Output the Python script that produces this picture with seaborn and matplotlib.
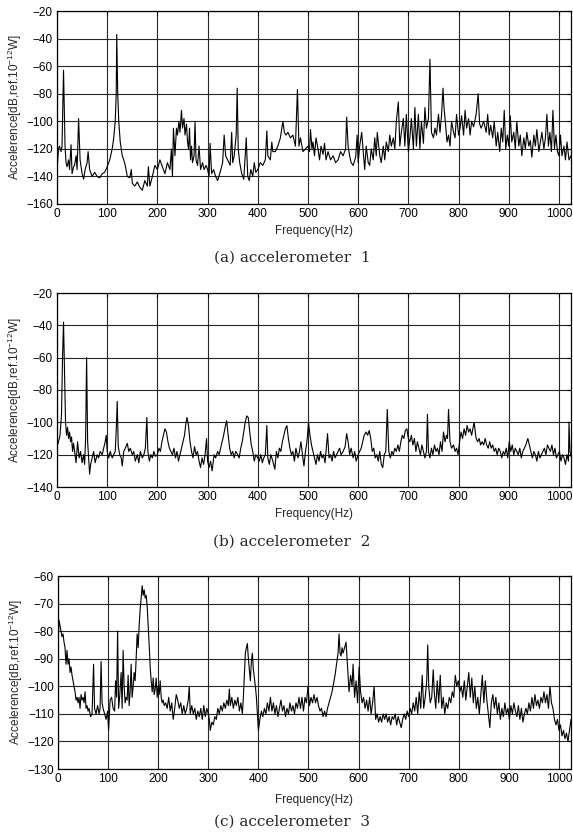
import matplotlib
matplotlib.use('Agg')
import matplotlib.pyplot as plt
import seaborn as sns

# accelerometer 1 : frequency (Hz) / level (dB)
freq_a = [
    0, 3, 5, 8, 10, 13, 16, 18, 20, 23,
    25, 28, 30, 33, 35, 38, 40, 43, 46, 50,
    53, 56, 60, 62, 65, 70, 75, 80, 85, 90,
    95, 100, 105, 110, 113, 116, 118, 119, 121, 123,
    126, 130, 133, 136, 140, 145, 148, 150, 155, 160,
    165, 170, 175, 180, 182, 185, 190, 195, 200, 205,
    210, 215, 220, 225, 228, 230, 232, 235, 238, 240,
    243, 245, 248, 250, 253, 255, 258, 260, 262, 264,
    266, 268, 270, 273, 275, 277, 280, 283, 286, 290,
    293, 297, 300, 303, 305, 308, 312, 316, 320, 325,
    330, 333, 336, 340, 345, 348, 350, 353, 357, 359,
    361, 364, 368, 372, 375, 377, 380, 383, 386, 390,
    393, 396, 400, 405, 410, 415, 418, 420, 425, 428,
    430, 435, 440, 445, 450, 453, 456, 460, 465, 470,
    475, 479, 482, 485, 490, 495, 500, 503, 505, 508,
    510, 513, 516, 520, 523, 526, 530, 533, 536, 540,
    545, 550, 555, 560, 565, 570, 575, 577, 580, 583,
    586, 590, 595, 598, 600, 603, 607, 610, 613, 616,
    620, 623, 626, 630, 633, 636, 638, 643, 646, 650,
    653, 656, 660, 663, 666, 670, 673, 676, 680, 683,
    686, 690, 693, 696, 700, 703, 706, 710, 713, 716,
    720, 723, 726, 730, 733, 736, 740, 743, 746, 750,
    753, 756, 760, 763, 766, 769, 771, 774, 777, 780,
    783, 786, 790, 793, 796, 800, 803, 806, 810, 813,
    816, 820, 823, 826, 830, 835, 839, 842, 845, 850,
    855, 858, 861, 864, 868, 871, 875, 878, 882, 885,
    888, 891, 894, 897, 900, 903, 906, 910, 913, 916,
    920, 923, 926, 930, 933, 936, 940, 943, 946, 950,
    953, 956, 960, 963, 966, 970, 973, 976, 979, 982,
    985, 988, 991, 994, 997, 1000, 1003, 1006, 1010, 1013,
    1016, 1020, 1024]
level_a = [
    -136, -120, -118, -122, -118, -63, -118, -130, -133, -128,
    -135, -117, -138, -133, -132, -125, -135, -98, -128, -138,
    -142, -135, -130, -122, -135, -140, -137, -140, -141, -138,
    -137, -133, -128, -120, -112, -100, -80, -37, -80, -100,
    -115, -125, -128, -132, -140, -141, -135, -145, -147, -144,
    -148, -150, -143, -147, -133, -147, -140, -132, -135, -128,
    -133, -138, -130, -135, -120, -140, -105, -125, -105, -110,
    -100, -108, -92, -105, -98, -110, -102, -115, -120, -105,
    -128, -118, -130, -125, -100, -128, -132, -118, -135, -130,
    -135, -132, -135, -140, -116, -138, -135, -140, -143, -137,
    -130, -110, -125, -128, -132, -108, -130, -125, -110, -76,
    -120, -130, -138, -142, -125, -112, -140, -143, -135, -140,
    -130, -137, -135, -130, -132, -128, -107, -125, -128, -115,
    -122, -122, -118, -112, -100, -108, -110, -108, -112, -110,
    -118, -77, -118, -112, -122, -120, -118, -122, -106, -120,
    -115, -125, -112, -120, -128, -118, -124, -116, -128, -122,
    -128, -125, -130, -128, -122, -125, -120, -97, -118, -125,
    -130, -132, -126, -110, -130, -118, -108, -122, -135, -118,
    -130, -132, -120, -128, -112, -125, -108, -125, -130, -118,
    -128, -115, -122, -110, -118, -112, -120, -100, -86, -118,
    -108, -98, -118, -95, -122, -112, -98, -120, -90, -118,
    -95, -120, -100, -116, -90, -105, -98, -55, -108, -112,
    -105, -110, -95, -108, -96, -76, -90, -102, -115, -110,
    -118, -100, -108, -112, -95, -110, -105, -96, -110, -92,
    -105, -98, -110, -100, -104, -95, -80, -102, -105, -100,
    -108, -95, -110, -103, -112, -100, -118, -108, -122, -105,
    -115, -92, -120, -110, -118, -96, -115, -108, -120, -100,
    -118, -110, -125, -112, -120, -108, -118, -114, -126, -110,
    -118, -106, -122, -115, -108, -120, -112, -95, -118, -108,
    -122, -92, -120, -110, -122, -125, -110, -125, -118, -128,
    -115, -128, -125]

# accelerometer 2
freq_b = [
    0, 3, 6, 9, 11, 13, 15, 17, 19, 21,
    23, 25, 27, 29, 31, 33, 36, 38, 41, 44,
    47, 50, 53, 55, 57, 59, 61, 63, 65, 67,
    70, 73, 76, 80, 83, 86, 90, 93, 96, 98,
    100, 103, 106, 110, 113, 116, 118, 120, 122, 125,
    128, 130, 133, 136, 140, 143, 146, 150, 153, 156,
    160, 163, 166, 170, 173, 176, 179, 181, 184, 187,
    190, 193, 196, 200, 203, 206, 209, 212, 215, 218,
    221, 224, 227, 230, 233, 236, 239, 242, 245, 248,
    251, 254, 257, 259, 262, 265, 268, 271, 274, 277,
    280, 283, 286, 289, 292, 295, 298, 300, 303, 306,
    309, 313, 316, 320, 323, 326, 329, 332, 335, 338,
    341, 344, 347, 350, 353, 356, 360, 363, 366, 369,
    372, 375, 378, 381, 384, 387, 390, 393, 396, 400,
    403, 406, 409, 412, 415, 418, 420, 423, 426, 430,
    434, 437, 440, 443, 446, 449, 452, 455, 458, 461,
    464, 467, 470, 473, 476, 480, 483, 486, 489, 492,
    495, 498, 501, 504, 507, 510, 513, 516, 519, 522,
    525, 528, 531, 534, 536, 539, 542, 545, 548, 551,
    554, 557, 560, 563, 566, 570, 574, 577, 580, 583,
    586, 590, 593, 596, 600, 603, 606, 609, 612, 616,
    619, 622, 625, 628, 631, 634, 637, 640, 643, 646,
    649, 652, 655, 658, 661, 664, 667, 670, 673, 676,
    679, 682, 685, 688, 691, 694, 697, 700, 703, 706,
    709, 712, 715, 718, 721, 724, 727, 730, 733, 736,
    738, 740, 743, 746, 749, 752, 755, 758, 761, 764,
    767, 770, 773, 776, 778, 780, 783, 786, 790, 793,
    796, 799, 802, 805, 808, 811, 814, 817, 820, 823,
    826, 829, 831, 835, 838, 841, 844, 847, 850, 853,
    856, 859, 862, 865, 868, 871, 874, 877, 880, 883,
    886, 889, 892, 895, 898, 901, 904, 907, 910, 913,
    916, 919, 922, 925, 928, 931, 934, 938, 941, 944,
    947, 950, 953, 956, 959, 962, 965, 968, 971, 974,
    977, 980, 983, 986, 989, 992, 995, 998, 1001, 1004,
    1007, 1010, 1013, 1016, 1019, 1020, 1022, 1024]
level_b = [
    -115, -112, -108, -95, -60, -38, -70, -100, -108, -103,
    -110, -106, -112, -109, -118, -113, -120, -125, -112, -122,
    -118, -125, -120, -126, -110, -60, -112, -122, -132, -126,
    -122, -118, -125, -120, -122, -118, -120, -116, -112, -108,
    -118, -122, -118, -122, -120, -118, -105, -87, -115, -120,
    -122, -127, -118, -116, -113, -118, -116, -120, -118, -124,
    -120, -125, -118, -122, -120, -116, -97, -118, -124, -120,
    -122, -118, -121, -120, -116, -118, -112, -108, -104, -106,
    -112, -116, -118, -120, -116, -122, -118, -124, -120, -116,
    -112, -108, -100, -97, -102, -112, -118, -122, -115, -120,
    -118, -124, -128, -122, -126, -120, -110, -124, -128, -124,
    -130, -120, -122, -118, -120, -116, -112, -108, -103, -99,
    -108, -116, -120, -118, -122, -118, -120, -122, -116, -112,
    -106, -100, -96, -97, -106, -114, -118, -124, -120, -122,
    -124, -120, -125, -122, -120, -102, -122, -126, -120, -124,
    -129, -118, -122, -116, -118, -112, -108, -104, -102, -110,
    -116, -120, -118, -124, -116, -122, -118, -112, -120, -127,
    -118, -112, -100, -108, -114, -118, -122, -126, -120, -124,
    -118, -122, -120, -125, -118, -107, -122, -120, -124, -118,
    -122, -120, -118, -116, -120, -118, -115, -107, -112, -120,
    -116, -122, -118, -124, -120, -118, -116, -112, -108, -106,
    -108, -105, -110, -118, -116, -122, -120, -124, -118, -126,
    -128, -120, -118, -92, -118, -122, -118, -120, -116, -118,
    -114, -118, -112, -108, -110, -105, -104, -110, -112, -108,
    -114, -110, -118, -112, -116, -120, -114, -118, -122, -118,
    -95, -118, -122, -116, -120, -114, -118, -116, -120, -112,
    -118, -106, -112, -108, -110, -92, -112, -116, -114, -118,
    -116, -120, -112, -106, -110, -104, -108, -102, -106, -104,
    -108, -103, -100, -110, -112, -110, -114, -112, -114, -110,
    -114, -116, -112, -116, -114, -118, -116, -120, -116, -118,
    -122, -118, -120, -116, -122, -112, -118, -114, -120, -116,
    -118, -120, -116, -122, -118, -116, -114, -110, -114, -118,
    -122, -118, -120, -124, -118, -122, -120, -118, -116, -120,
    -114, -116, -118, -114, -120, -116, -122, -120, -118, -124,
    -120, -122, -126, -120, -124, -100, -118, -121]

# accelerometer 3
freq_c = [
    0, 2, 4, 6, 8, 10, 12, 14, 16, 18,
    20, 22, 24, 26, 28, 30, 32, 34, 36, 38,
    40, 42, 44, 46, 48, 50, 52, 54, 56, 58,
    60, 62, 65, 68, 71, 73, 76, 79, 82, 84,
    86, 88, 90, 93, 96, 99, 101, 104, 107, 110,
    113, 115, 117, 119, 121, 123, 126, 128, 130, 132,
    134, 136, 138, 140, 142, 144, 146, 148, 150, 152,
    154, 156, 158, 160, 162, 164, 166, 168, 170, 172,
    174, 176, 178, 180, 182, 184, 186, 188, 190, 192,
    194, 196, 198, 200, 202, 204, 206, 208, 210, 212,
    215, 218, 221, 224, 227, 230, 233, 236, 239, 242,
    245, 248, 251, 254, 257, 260, 262, 264, 267, 270,
    273, 276, 279, 282, 285, 288, 291, 294, 297, 300,
    302, 304, 307, 310, 313, 316, 319, 322, 325, 328,
    331, 334, 337, 340, 342, 344, 347, 350, 353, 356,
    359, 362, 365, 368, 370, 372, 374, 376, 378, 380,
    382, 384, 386, 388, 390, 392, 394, 396, 398, 400,
    403, 406, 409, 412, 415, 418, 421, 424, 427, 430,
    433, 436, 439, 442, 445, 448, 451, 454, 457, 460,
    463, 466, 469, 472, 475, 478, 481, 484, 487, 490,
    493, 496, 499, 502, 505, 508, 511, 514, 517, 520,
    523, 526, 529, 532, 535, 538, 541, 544, 547, 550,
    553, 556, 559, 561, 563, 565, 567, 569, 572, 575,
    577, 579, 581, 584, 587, 589, 592, 595, 598, 601,
    604, 607, 610, 613, 616, 619, 622, 625, 628, 631,
    634, 637, 640, 643, 646, 649, 652, 655, 658, 661,
    664, 667, 670, 673, 676, 679, 682, 685, 688, 691,
    694, 697, 700, 703, 706, 709, 712, 715, 718, 721,
    724, 727, 730, 733, 736, 738, 740, 743, 746, 749,
    751, 754, 757, 760, 763, 766, 769, 772, 775, 778,
    781, 784, 787, 790, 793, 796, 799, 802, 805, 808,
    811, 814, 817, 820, 823, 826, 829, 832, 835, 838,
    841, 844, 847, 850, 853, 856, 859, 862, 865, 868,
    871, 874, 877, 880, 883, 886, 889, 892, 895, 898,
    901, 904, 907, 910, 913, 916, 919, 922, 925, 928,
    931, 934, 937, 940, 943, 946, 949, 952, 955, 958,
    961, 964, 967, 970, 973, 976, 979, 982, 985, 988,
    991, 994, 997, 1000, 1003, 1006, 1009, 1012, 1015, 1018,
    1021, 1024]
level_c = [
    -85, -76, -78, -80, -82, -81, -84, -86, -92, -87,
    -92, -90, -95, -93, -96, -98, -100, -102, -105, -104,
    -106, -104, -108, -103, -105, -104, -106, -102, -108, -107,
    -109, -108, -111, -110, -92, -108, -110, -107, -110, -108,
    -91, -106, -108, -110, -112, -109, -116, -105, -104, -108,
    -109, -98, -104, -80, -108, -104, -95, -108, -87, -100,
    -106, -104, -105, -96, -107, -102, -92, -104, -100, -95,
    -98, -90, -81, -86, -78, -72, -68, -63.5, -67, -65,
    -68, -67, -71, -78, -85, -93, -98, -102, -97, -103,
    -101, -97, -104, -100, -103, -98, -104, -106, -105, -107,
    -106, -108, -104, -109, -106, -112, -108, -103, -105, -108,
    -106, -110, -107, -110, -108, -105, -100, -110, -107, -110,
    -108, -112, -109, -111, -108, -112, -107, -111, -108, -110,
    -112, -116, -113, -114, -111, -112, -108, -110, -107, -109,
    -106, -108, -105, -107, -101, -107, -104, -108, -105, -107,
    -104, -109, -106, -110, -104, -96, -88, -86, -84.5, -90,
    -94, -98, -91, -88, -94, -97, -100, -104, -110, -116,
    -112, -109, -111, -108, -110, -106, -109, -104, -109, -106,
    -110, -107, -111, -108, -105, -109, -107, -111, -108, -110,
    -106, -109, -107, -110, -106, -108, -104, -108, -104, -109,
    -104, -106, -100, -107, -104, -106, -103, -106, -104, -107,
    -109, -108, -111, -109, -111, -108, -106, -104, -102, -99,
    -96, -92, -88, -81, -88, -89, -86, -88, -86, -84,
    -90, -96, -102, -96, -100, -92, -104, -98, -106, -93,
    -102, -106, -104, -108, -105, -109, -104, -110, -106, -100,
    -112, -110, -113, -111, -113, -110, -112, -110, -113, -111,
    -114, -111, -112, -110, -114, -111, -113, -115, -112, -110,
    -112, -109, -111, -108, -110, -106, -109, -104, -110, -102,
    -108, -96, -108, -104, -98, -85, -100, -106, -104, -94,
    -102, -108, -98, -106, -96, -108, -104, -110, -106, -108,
    -104, -106, -102, -104, -96, -100, -98, -102, -100, -104,
    -98, -105, -100, -95, -104, -97, -106, -100, -108, -104,
    -110, -103, -96, -106, -98, -105, -110, -115, -106, -103,
    -108, -104, -110, -106, -112, -108, -111, -106, -110, -108,
    -112, -107, -110, -106, -109, -111, -107, -112, -108, -113,
    -110, -108, -110, -106, -109, -104, -108, -103, -107, -105,
    -108, -104, -106, -102, -106, -103, -108, -100, -106, -108,
    -112, -114, -112, -116, -114, -118, -116, -119, -117, -120,
    -116, -112]

panels = [
    (freq_a, level_a, (-160, -20), 20, '(a) accelerometer  1'),
    (freq_b, level_b, (-140, -20), 20, '(b) accelerometer  2'),
    (freq_c, level_c, (-130, -60), 10, '(c) accelerometer  3'),
]
xticks = list(range(0, 1001, 100))

sns.set_style('white')
plt.rcParams['font.family'] = ['Liberation Sans', 'DejaVu Sans']
plt.rcParams['mathtext.default'] = 'regular'

W, H = 573, 833
fig = plt.figure(figsize=(W / 100, H / 100), dpi=100)

# axes boxes in pixels: left, top, right, bottom
boxes = [(57, 11, 571, 204), (57, 293, 571, 487), (58, 576, 571, 769)]
freq_lab_y = [231, 514, 800]
caption_y = [258, 542, 822]

for (f, lv, ylim, ystep, cap), (l, t, r, b), fy, cy in zip(panels, boxes, freq_lab_y, caption_y):
    ax = fig.add_axes([l / W, 1 - b / H, (r - l) / W, (b - t) / H])
    sns.lineplot(x=f, y=lv, ax=ax, color='black', linewidth=0.8)
    ax.set_xlim(0, 1024)
    ax.set_ylim(*ylim)
    ax.set_xticks(xticks)
    ax.set_yticks(list(range(ylim[0], ylim[1] + 1, ystep)))
    ax.grid(True, color='0.15', linewidth=0.8)
    ax.tick_params(direction='in', top=True, right=True, length=3,
                   labelsize=8.5, pad=3, colors='black')
    for s in ax.spines.values():
        s.set_color('black')
        s.set_linewidth(0.9)
    ax.set_ylabel(r'Accelerence[dB,ref.10$^{-12}$W]', fontsize=8.5)
    ax.yaxis.set_label_coords(-0.064, 0.5)
    fig.text(314 / W, 1 - fy / H, 'Frequency(Hz)', ha='center', va='center', fontsize=8.5)
    fig.text(292 / W, 1 - cy / H, cap, ha='center', va='center', fontsize=11,
             family='DejaVu Serif', color='0.15')

fig.savefig('out.png', dpi=100)
